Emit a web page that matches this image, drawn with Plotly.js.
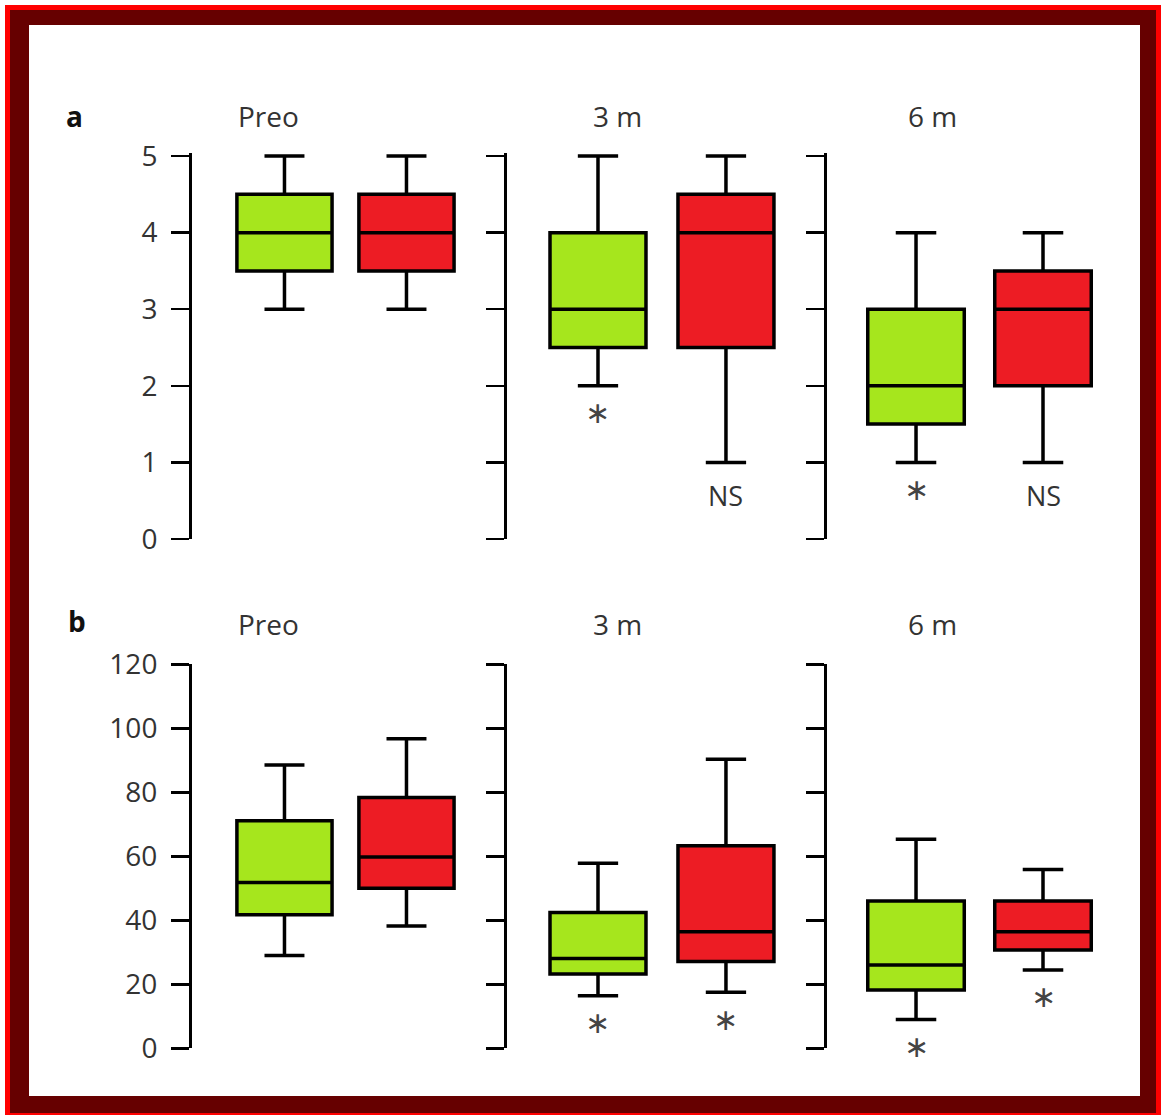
<!DOCTYPE html>
<html>
<head>
<meta charset="utf-8">
<script src="https://cdn.plot.ly/plotly-3.0.1.min.js"></script>
<style>
  html, body { margin: 0; padding: 0; background: #ffffff; }
  #chart { width: 1161px; height: 1115px; }
</style>
</head>
<body>
<div id="chart"></div>
<script>
// ---------------- DATA ----------------
const panels = ['Preo', '3 m', '6 m'];
const rowLabels = ['a', 'b'];

// Row a (score 0-5): green group
const aGreenMin = [3, 2, 1];
const aGreenQ1  = [3.5, 2.5, 1.5];
const aGreenMed = [4, 3, 2];
const aGreenQ3  = [4.5, 4, 3];
const aGreenMax = [5, 5, 4];
// Row a: red group
const aRedMin = [3, 1, 1];
const aRedQ1  = [3.5, 2.5, 2];
const aRedMed = [4, 4, 3];
const aRedQ3  = [4.5, 4.5, 3.5];
const aRedMax = [5, 5, 4];

// Row b (0-120): green group
const bGreenMin = [29, 16.4, 9];
const bGreenQ1  = [41.7, 23.2, 18.2];
const bGreenMed = [51.8, 28.1, 26];
const bGreenQ3  = [71.1, 42.4, 46];
const bGreenMax = [88.5, 57.8, 65.3];
// Row b: red group
const bRedMin = [38.2, 17.5, 24.5];
const bRedQ1  = [50, 27.1, 30.7];
const bRedMed = [59.8, 36.4, 36.4];
const bRedQ3  = [78.4, 63.3, 46];
const bRedMax = [96.7, 90.3, 55.9];

// Significance markers under each box
const aGreenSig = ['', '∗', '∗'];
const aRedSig   = ['', 'NS', 'NS'];
const bGreenSig = ['', '∗', '∗'];
const bRedSig   = ['', '∗', '∗'];

// Tick values
const aTicks = [0, 1, 2, 3, 4, 5];
const bTicks = [0, 20, 40, 60, 80, 100, 120];

// ---------------- LAYOUT HELPERS ----------------
const W = 1161, H = 1115;
const px = x => x / W;
const py = y => 1 - y / H;

const GREEN = '#a6e61d';
const RED = '#ed1c24';
const FONT = 'Open Sans, Noto Sans, sans-serif';
const TXT = '#333333';

// Subplot geometry (pixels)
const colLeft = [192, 507, 827];
const colWidth = 280;
const colRange = [[-0.758, 1.537], [-0.711, 1.477], [-0.701, 1.504]];
const boxW = [0.78, 0.75, 0.76];
const rowDom = [[py(539), py(153)], [py(1048.3), py(664.3)]];
const rowRange = [[0, 5.04], [0, 120]];
const rowTicks = [aTicks, bTicks];

const rows = [
  { green: [aGreenMin, aGreenQ1, aGreenMed, aGreenQ3, aGreenMax], red: [aRedMin, aRedQ1, aRedMed, aRedQ3, aRedMax], gSig: aGreenSig, rSig: aRedSig },
  { green: [bGreenMin, bGreenQ1, bGreenMed, bGreenQ3, bGreenMax], red: [bRedMin, bRedQ1, bRedMed, bRedQ3, bRedMax], gSig: bGreenSig, rSig: bRedSig }
];

const traces = [];
const layout = {
  width: W, height: H, autosize: false,
  margin: { l: 0, r: 0, t: 0, b: 0, pad: 0 },
  paper_bgcolor: '#ffffff',
  plot_bgcolor: 'rgba(0,0,0,0)',
  showlegend: false,
  font: { family: FONT, color: TXT },
  shapes: [
    { type: 'rect', xref: 'paper', yref: 'paper', x0: px(5), x1: px(1161), y0: py(1115), y1: py(5), fillcolor: '#ff0000', line: { width: 0 }, layer: 'below' },
    { type: 'rect', xref: 'paper', yref: 'paper', x0: px(10), x1: px(1156), y0: py(1113), y1: py(10), fillcolor: '#660000', line: { width: 0 }, layer: 'below' },
    { type: 'rect', xref: 'paper', yref: 'paper', x0: px(29), x1: px(1140), y0: py(1096), y1: py(25), fillcolor: '#ffffff', line: { width: 0 }, layer: 'below' }
  ],
  annotations: []
};

const titleX = [268, 617, 932];
const titleY = [116, 624];
const letterPos = [[74, 116], [77, 621]];

rows.forEach((row, r) => {
  // panel letter
  layout.annotations.push({
    text: '<b>' + rowLabels[r] + '</b>', xref: 'paper', yref: 'paper',
    x: px(letterPos[r][0]), y: py(letterPos[r][1]), xanchor: 'center', yanchor: 'middle',
    showarrow: false, font: { family: FONT, size: 28, color: '#111' }
  });
  panels.forEach((p, c) => {
    const n = r * 3 + c + 1;
    const xa = 'x' + (n === 1 ? '' : n);
    const ya = 'y' + (n === 1 ? '' : n);
    const xk = 'xaxis' + (n === 1 ? '' : n);
    const yk = 'yaxis' + (n === 1 ? '' : n);
    layout[xk] = {
      domain: [px(colLeft[c]), px(colLeft[c] + colWidth)],
      range: colRange[c], visible: false, anchor: ya, fixedrange: true
    };
    layout[yk] = {
      domain: rowDom[r], range: rowRange[r], anchor: xa,
      showline: true, linecolor: '#000', linewidth: 3,
      ticks: 'outside', ticklen: 18, tickwidth: 2.5, tickcolor: '#000',
      tickmode: 'array', tickvals: rowTicks[r],
      showticklabels: c === 0, ticklabelstandoff: 8,
      tickfont: { family: FONT, size: 28, color: TXT },
      showgrid: false, zeroline: false, fixedrange: true
    };
    [['green', GREEN, 0, row.gSig], ['red', RED, 1, row.rSig]].forEach(([key, col, pos, sig]) => {
      const s = row[key];
      traces.push({
        type: 'box', xaxis: xa, yaxis: ya,
        x: [pos],
        lowerfence: [s[0][c]], q1: [s[1][c]], median: [s[2][c]], q3: [s[3][c]], upperfence: [s[4][c]],
        width: boxW[c], whiskerwidth: 0.42,
        fillcolor: col, line: { color: '#000', width: 3.5 },
        boxpoints: false, hoverinfo: 'skip'
      });
      if (sig[c]) {
        const isStar = sig[c] !== 'NS';
        layout.annotations.push({
          text: sig[c], xref: xa, yref: ya, x: pos, y: s[0][c],
          xanchor: 'center', yanchor: 'middle', yshift: isStar ? -27 : -33,
          showarrow: false,
          font: isStar ? { family: 'DejaVu Sans', size: 30, color: '#444' } : { family: FONT, size: 27, color: '#333' }
        });
      }
    });
    // panel title
    layout.annotations.push({
      text: p, xref: 'paper', yref: 'paper', x: px(titleX[c]), y: py(titleY[r]),
      xanchor: 'center', yanchor: 'middle', showarrow: false,
      font: { family: FONT, size: 28, color: TXT }
    });
  });
});

Plotly.newPlot('chart', traces, layout, { displayModeBar: false, staticPlot: true });
</script>
</body>
</html>
